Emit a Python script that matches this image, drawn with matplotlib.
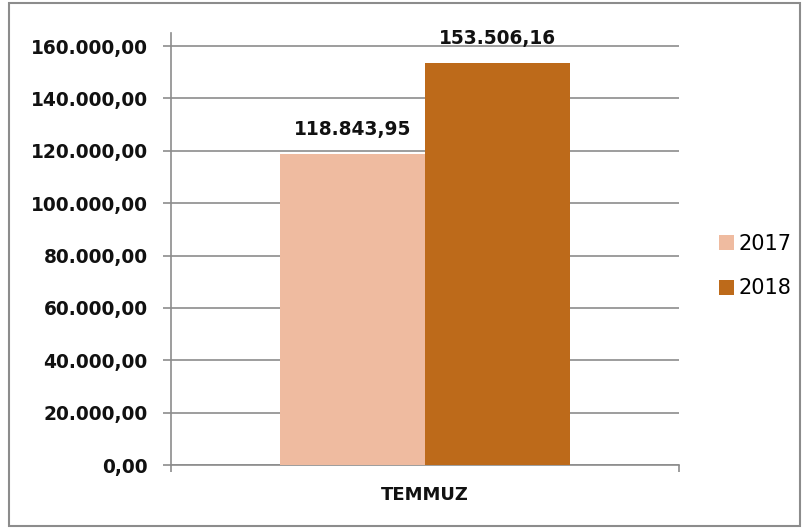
import matplotlib
matplotlib.use("Agg")
import matplotlib.pyplot as plt
from matplotlib.patches import Rectangle
from matplotlib.ticker import FixedLocator

categories = ["TEMMUZ"]
series_names = ["2017", "2018"]
values_2017 = [118843.95]
values_2018 = [153506.16]
colors = ["#EFBBA0", "#BD6A1A"]
yticks = [0, 20000, 40000, 60000, 80000, 100000, 120000, 140000, 160000]

def fmt_tr(v):
    s = f"{v:,.2f}"
    return s.replace(",", "X").replace(".", ",").replace("X", ".")

plt.rcParams['font.family'] = ['DejaVu Sans']

fig = plt.figure(figsize=(8.05, 5.29), dpi=100)
W, H = 805, 529
ax = fig.add_axes([171 / W, 1 - 465 / H, (679 - 171) / W, (465 - 33) / H])

bw = 0.285
x = [0]
b1 = ax.bar([xi - bw / 2 for xi in x], values_2017, width=bw, color=colors[0], label=series_names[0], zorder=3)
b2 = ax.bar([xi + bw / 2 for xi in x], values_2018, width=bw, color=colors[1], label=series_names[1], zorder=3)

for bars, vals in ((b1, values_2017), (b2, values_2018)):
    for r, v in zip(bars, vals):
        ax.annotate(fmt_tr(v), (r.get_x() + r.get_width() / 2, v), xytext=(0, 11),
                    textcoords="offset points", ha="center", va="bottom",
                    fontsize=13.4, fontweight="bold", color="#111111")

ax.set_xlim(-0.5, 0.5)
ax.set_ylim(0, 165000)
ax.yaxis.set_major_locator(FixedLocator(yticks))
ax.set_yticklabels([fmt_tr(t) for t in yticks], fontsize=13.4, fontweight="bold", color="#111111")
ax.yaxis.grid(True, color="#8c8c8c", linewidth=1.2, zorder=0)
ax.set_axisbelow(True)

for s in ("top", "right"):
    ax.spines[s].set_visible(False)
ax.spines["left"].set_color("#8c8c8c")
ax.spines["left"].set_linewidth(1.2)
ax.spines["bottom"].set_color("#8c8c8c")
ax.spines["bottom"].set_linewidth(1.2)
ax.tick_params(axis="y", length=5.8, width=1.2, color="#8c8c8c", pad=11)

ax.set_xticks([-0.5, 0.5])
ax.set_xticklabels(["", ""])
ax.tick_params(axis="x", length=5, width=1.2, color="#8c8c8c", direction="out")
ax.text(0, -0.07, categories[0], transform=ax.get_xaxis_transform(), ha="center", va="center",
        fontsize=13, fontweight="bold", color="#111111")

leg = fig.legend(handles=[b1, b2], labels=series_names, loc="center left",
                 bbox_to_anchor=(719 / W, 1 - 266 / H), frameon=False, fontsize=15,
                 handlelength=0.7, handleheight=0.7, handletextpad=0.25, labelspacing=1.2,
                 borderpad=0, borderaxespad=0)

fig.patches.append(Rectangle((9 / W, 3 / H), (800 - 9) / W, (526 - 3) / H, transform=fig.transFigure,
                             fill=False, edgecolor="#8c8c8c", linewidth=1.5))

fig.savefig("out.png", dpi=100)
